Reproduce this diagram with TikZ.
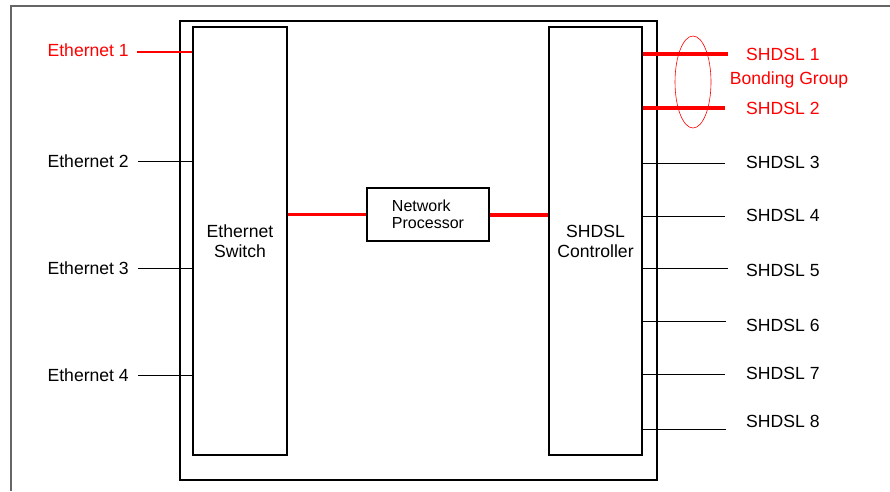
\documentclass[tikz,border=0pt]{standalone}
\usepackage{fontspec}
\setmainfont{Liberation Sans}

\begin{document}
\begin{tikzpicture}[x=1pt, y=-1pt,
    box/.style={draw, line width=1.2pt, inner sep=0pt},
    lbl/.style={font=\fontsize{17.6}{20}\selectfont, inner sep=0pt},
    port/.style={line width=1pt},
    redport/.style={red, line width=2.5pt},
    bonded/.style={red, line width=4pt}]

      % Fix the page to the reference size
      \useasboundingbox (0,0) rectangle (890,491);

      % Outer frame (cut off at the right and bottom)
      \draw[gray!80!black, line width=1.5pt] (11,491) -- (11,6) -- (890,6);

      % Chassis and the three blocks inside
      \node[box, minimum width=477, minimum height=459] (chassis) at (418.5,250.5) {};
      \node[box, minimum width=94, minimum height=428, align=center, font=\fontsize{17.6}{20}\selectfont] (switch) at (240,241) {Ethernet\\Switch};
      \node[box, minimum width=93, minimum height=428, align=center, font=\fontsize{17.6}{20}\selectfont] (ctrl) at (595.5,241) {SHDSL\\Controller};
      \node[box, minimum width=122, minimum height=53, align=left, font=\fontsize{16}{17}\selectfont] (np) at (428,214.5) {Network\\Processor};

      % Ethernet ports on the left
      \node[lbl, anchor=east, text=red] (eth1) at (129,50) {Ethernet 1};
      \node[lbl, anchor=east] (eth2) at (129,161) {Ethernet 2};
      \node[lbl, anchor=east] (eth3) at (129,268) {Ethernet 3};
      \node[lbl, anchor=east] (eth4) at (129,375) {Ethernet 4};

      \draw[redport] ([xshift=8pt,yshift=-2pt]eth1.east) -- ([yshift=-2pt]eth1.east -| switch.west);
      \foreach \e in {eth2,eth3,eth4}
        \draw[port] ([xshift=9pt]\e.east) -- (\e.east -| switch.west);

      % Data path through the network processor
      \draw[redport] (np.west -| switch.east) -- (np.west);
      \draw[bonded] (np.east) -- (np.east -| ctrl.west);

      % SHDSL ports on the right
      \node[lbl, anchor=west, text=red] (s1) at (746,54) {SHDSL 1};
      \node[lbl, anchor=west, text=red] (s2) at (746,108) {SHDSL 2};
      \node[lbl, anchor=west] (s3) at (746,162) {SHDSL 3};
      \node[lbl, anchor=west] (s4) at (746,215) {SHDSL 4};
      \node[lbl, anchor=west] (s5) at (746,270) {SHDSL 5};
      \node[lbl, anchor=west] (s6) at (746,325) {SHDSL 6};
      \node[lbl, anchor=west] (s7) at (746,373) {SHDSL 7};
      \node[lbl, anchor=west] (s8) at (746,421) {SHDSL 8};
      \node[lbl, text=red] (bond) at (789,80) {Bonding Group};

      \draw[bonded] (s1.west -| ctrl.east) -- ([xshift=-18pt]s1.west);
      \draw[bonded] (s2.west -| ctrl.east) -- ([xshift=-21pt]s2.west);
      \draw[port] ([yshift=-1pt]s3.west -| ctrl.east) -- ([xshift=-21pt,yshift=-1pt]s3.west);
      \draw[port] ([yshift=-1pt]s4.west -| ctrl.east) -- ([xshift=-21pt,yshift=-1pt]s4.west);
      \draw[port] ([yshift=2pt]s5.west -| ctrl.east) -- ([xshift=-18pt,yshift=2pt]s5.west);
      \draw[port] ([yshift=4pt]s6.west -| ctrl.east) -- ([xshift=-20pt,yshift=4pt]s6.west);
      \draw[port] ([yshift=-1pt]s7.west -| ctrl.east) -- ([xshift=-21pt,yshift=-1pt]s7.west);
      \draw[port] ([xshift=-2pt,yshift=-8pt]s8.west -| ctrl.east) -- ([xshift=-20pt,yshift=-8pt]s8.west);

      % Ring round the bonded pair
      \draw[red, line width=0.6pt] (693,82) ellipse [x radius=18, y radius=46];

  \end{tikzpicture}
\end{document}
